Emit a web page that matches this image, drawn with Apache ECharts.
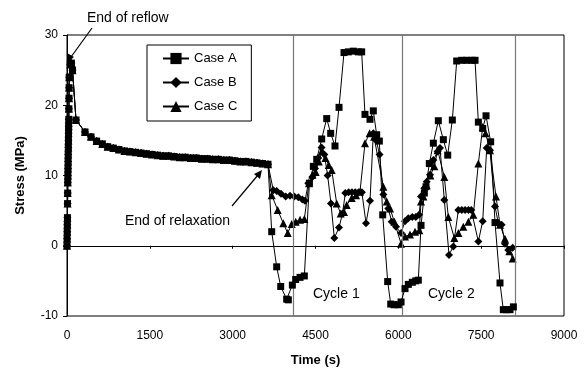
<!DOCTYPE html>
<html lang="en">
<head>
<meta charset="UTF-8">
<title>Stress vs time</title>
<script src="https://cdn.jsdelivr.net/npm/echarts@6/dist/echarts.min.js"></script>
<style>
  html, body { margin: 0; padding: 0; background: #fff; }
  #chart { width: 586px; height: 369px; }
</style>
</head>
<body>
<div id="chart"></div>
<script type="text/javascript">
// shared reflow + relaxation part (same for all three cases)
var tRelax = [0, 2, 4, 6, 8, 10, 12, 14, 16, 18, 20, 22, 24, 26, 28, 30, 32, 34, 36, 38, 40, 60, 80, 100,
  163, 326, 435, 537, 640, 737, 839, 940, 1040, 1140, 1240, 1340, 1440, 1540, 1640, 1740, 1840, 1940,
  2040, 2140, 2240, 2340, 2440, 2540, 2640, 2740, 2840, 2940, 3040, 3140, 3240, 3340, 3440, 3540, 3640];
var sRelax = [0, 1, 2, 3, 4, 6, 7.5, 9, 10, 11, 12, 13, 14, 15, 16, 17, 18, 19.5, 21, 22.5, 24, 25.8, 26, 25,
  17.9, 16.2, 15.5, 14.9, 14.5, 14.1, 13.9, 13.7, 13.5, 13.4, 13.3, 13.2, 13.1, 13.0, 12.9, 12.8, 12.8, 12.7,
  12.6, 12.6, 12.5, 12.5, 12.4, 12.4, 12.3, 12.3, 12.2, 12.2, 12.1, 12.0, 12.0, 11.9, 11.8, 11.7, 11.6];

// thermal cycles
var tA = [3707, 3797, 3870, 3978, 4008, 4081, 4141, 4220, 4298, 4390, 4461, 4522, 4612, 4703, 4775, 4853, 4926,
  5016, 5095, 5185, 5276, 5336, 5396, 5487, 5547, 5608, 5656, 5717, 5807, 5862, 5922, 6000, 6049, 6121, 6181,
  6253, 6315, 6362, 6411, 6471, 6501, 6561, 6634, 6724, 6815, 6894, 6978, 7057, 7148, 7238, 7329, 7389, 7449,
  7528, 7588, 7672, 7751, 7841, 7901, 7962, 8022, 8083];
var sA = [2.0, -3.0, -5.8, -7.6, -7.7, -5.6, -4.8, -4.5, -4.3, 8.9, 11.3, 12.3, 15.2, 18.1, 16.0, 14.2, 19.7,
  27.5, 27.6, 27.7, 27.6, 27.6, 18.7, 18.0, 19.2, 15.8, 14.9, 4.4, -5.1, -8.3, -8.4, -8.4, -8.0, -6.1, -5.5,
  -5.2, -5.0, -4.9, 2.9, 7.5, 8.4, 11.7, 14.6, 17.8, 15.1, 12.9, 17.9, 26.3, 26.4, 26.4, 26.4, 26.4, 17.6,
  16.7, 18.5, 14.8, 3.3, -5.3, -9.1, -9.1, -9.1, -8.7];

var tB = [3736, 3797, 3875, 3960, 4038, 4116, 4189, 4262, 4310, 4370, 4443, 4491, 4550, 4610, 4660, 4720, 4780,
  4841, 4926, 4990, 5040, 5100, 5160, 5220, 5280, 5340, 5415, 5487, 5547, 5600, 5660, 5729, 5819, 5880, 5958,
  6049, 6121, 6181, 6253, 6315, 6375, 6411, 6471, 6513, 6573, 6634, 6712, 6755, 6833, 6918, 6996, 7087, 7150,
  7210, 7270, 7320, 7449, 7528, 7600, 7660, 7751, 7811, 7871, 7932, 7992, 8071];
var sB = [7.9, 7.8, 7.4, 7.0, 7.1, 7.0, 6.9, 6.6, 6.4, 8.9, 9.8, 11.0, 12.5, 14.0, 13.0, 10.0, 6.0,
  1.1, 2.6, 4.6, 7.5, 7.6, 7.6, 7.6, 7.6, 7.6, 3.2, 6.4, 16.0, 15.0, 13.0, 7.3, 5.3, 3.4, 2.7,
  1.8, 3.5, 3.9, 4.1, 4.1, 4.4, 7.0, 8.2, 9.1, 10.1, 12.2, 13.4, 13.9, 6.5, -1.3, -0.1, 5.1, 5.1,
  5.1, 5.1, 5.1, 0.6, 3.5, 13.9, 13.6, 5.6, 3.2, 3.0, 0.3, -0.6, -0.3];

var tC = [3707, 3815, 3917, 3997, 4069, 4141, 4220, 4298, 4382, 4443, 4503, 4560, 4620, 4680, 4740, 4793, 4884,
  4956, 5016, 5065, 5155, 5234, 5306, 5396, 5480, 5560, 5729, 5790, 5850, 5929, 6049, 6121, 6211, 6302, 6380,
  6411, 6453, 6513, 6580, 6652, 6712, 6833, 6905, 7014, 7087, 7177, 7268, 7358, 7449, 7528, 7580, 7660, 7769,
  7841, 7930, 8010, 8071];
var sC = [7.2, 5.1, 3.2, 1.8, 3.1, 3.4, 3.7, 3.8, 8.9, 10.1, 10.5, 12.0, 13.5, 12.5, 11.5, 10.8, 6.0,
  4.6, 4.8, 5.8, 6.8, 7.2, 7.7, 14.6, 16.0, 15.5, 8.4, 6.3, 5.3, 3.4, 0.3, 1.3, 1.6, 2.0, 2.2,
  6.3, 7.0, 8.6, 10.0, 11.3, 13.6, 9.8, 4.1, 1.1, 1.8, 2.7, 3.4, 4.4, 11.7, 16.9, 16.0, 13.6, 7.0,
  3.0, 1.0, -0.8, -1.8];

var cycleLines = [4100, 6070, 8110];
var xTicks = { min: 0, max: 9000, interval: 1500 };
var yTicks = { min: -10, max: 30, interval: 10 };

function pairs(t, s) {
  var out = [];
  for (var i = 0; i < t.length; i++) out.push([t[i], s[i]]);
  return out;
}
function withRelax(t, s) {
  return pairs(tRelax, sRelax).concat(pairs(t, s));
}

var font = 'Liberation Sans, Arial, sans-serif';
var myChart = echarts.init(document.getElementById('chart'));

var option = {
  animation: false,
  backgroundColor: '#fff',
  textStyle: { fontFamily: font, color: '#000' },
  grid: {
    left: 67, top: 35, right: 22, bottom: 53,
    outerBoundsMode: 'none', containLabel: false,
    show: true, borderColor: '#000', borderWidth: 1, backgroundColor: 'transparent'
  },
  legend: {
    orient: 'vertical',
    left: 147, top: 45,
    padding: [7, 14, 8, 15],
    itemWidth: 26, itemHeight: 14, itemGap: 11,
    backgroundColor: '#fff',
    borderColor: '#000', borderWidth: 1,
    textStyle: { fontFamily: font, fontSize: 13, color: '#000' },
    data: ['Case A', 'Case B', 'Case C']
  },
  xAxis: [{
    type: 'value', position: 'bottom',
    min: xTicks.min, max: xTicks.max, interval: xTicks.interval,
    name: 'Time (s)', nameLocation: 'middle', nameGap: 38,
    nameTextStyle: { fontFamily: font, fontSize: 13, fontWeight: 'bold', color: '#000' },
    axisLine: { show: false, onZero: false },
    axisTick: { show: false },
    axisLabel: { fontFamily: font, fontSize: 12, color: '#000', margin: 14, formatter: function (v) { return String(v); } },
    splitLine: { show: false }
  }, {
    type: 'value', position: 'bottom',
    min: xTicks.min, max: xTicks.max, interval: xTicks.interval,
    axisLine: { show: true, onZero: true, lineStyle: { color: '#000', width: 1 } },
    axisTick: { show: true, length: 3, lineStyle: { color: '#000' } },
    axisLabel: { show: false },
    splitLine: { show: false }
  }],
  yAxis: {
    type: 'value',
    min: yTicks.min, max: yTicks.max, interval: yTicks.interval,
    name: 'Stress (MPa)', nameLocation: 'middle', nameGap: 40,
    nameTextStyle: { fontFamily: font, fontSize: 13, fontWeight: 'bold', color: '#000' },
    axisLine: { show: true, lineStyle: { color: '#000', width: 1 } },
    axisTick: { show: true, length: 4, lineStyle: { color: '#000' } },
    axisLabel: { fontFamily: font, fontSize: 12, color: '#000', margin: 9 },
    splitLine: { show: false }
  },
  series: [{
    name: 'Case A', type: 'line', z: 5,
    symbol: 'rect', symbolSize: 7,
    itemStyle: { color: '#000' },
    lineStyle: { color: '#000', width: 1 },
    data: withRelax(tA, sA),
    markLine: {
      silent: true, symbol: ['none', 'none'],
      label: { show: false },
      lineStyle: { color: '#777', width: 1.2, type: 'solid' },
      data: cycleLines.map(function (v) { return { xAxis: v }; })
    }
  }, {
    name: 'Case B', type: 'line', z: 4,
    symbol: 'diamond', symbolSize: 8,
    itemStyle: { color: '#000' },
    lineStyle: { color: '#000', width: 1 },
    data: withRelax(tB, sB)
  }, {
    name: 'Case C', type: 'line', z: 3,
    symbol: 'triangle', symbolSize: 8,
    itemStyle: { color: '#000' },
    lineStyle: { color: '#000', width: 1 },
    data: withRelax(tC, sC)
  }],
  graphic: [
    { type: 'text', left: 87, top: 11, style: { text: 'End of reflow', font: '14px ' + font, fill: '#000' } },
    { type: 'line', shape: { x1: 92, y1: 28, x2: 71, y2: 57 }, style: { stroke: '#000', lineWidth: 1.2 } },
    { type: 'polygon', shape: { points: [[68, 62], [67, 53], [74, 57]] }, style: { fill: '#000' } },
    { type: 'text', left: 125, top: 214, style: { text: 'End of relaxation', font: '14px ' + font, fill: '#000' } },
    { type: 'line', shape: { x1: 232, y1: 206, x2: 258, y2: 175 }, style: { stroke: '#000', lineWidth: 1.2 } },
    { type: 'polygon', shape: { points: [[262, 170], [254, 174], [260, 179]] }, style: { fill: '#000' } },
    { type: 'text', left: 313, top: 287, style: { text: 'Cycle 1', font: '14px ' + font, fill: '#000' } },
    { type: 'text', left: 428, top: 287, style: { text: 'Cycle 2', font: '14px ' + font, fill: '#000' } }
  ]
};
myChart.setOption(option);
</script>
</body>
</html>
